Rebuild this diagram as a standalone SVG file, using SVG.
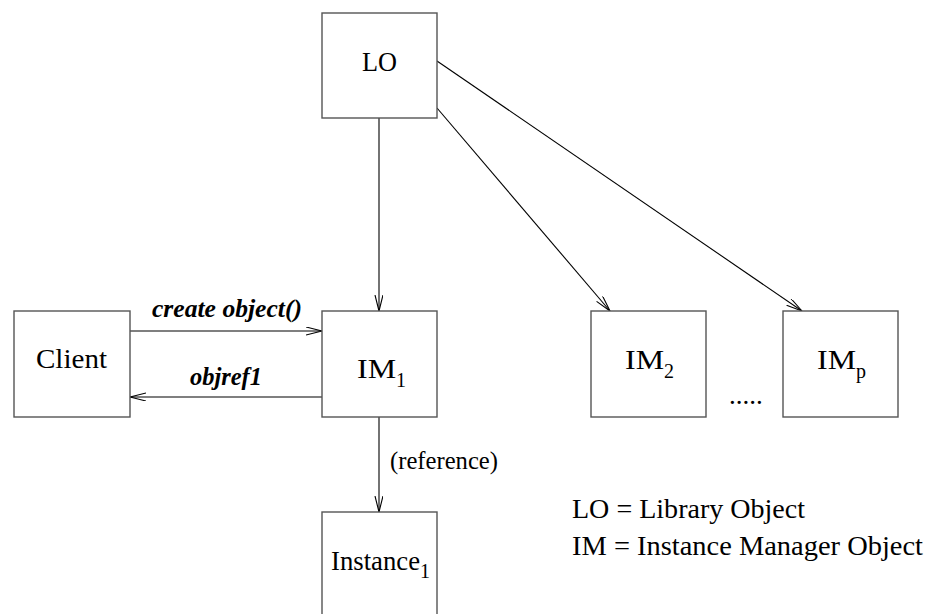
<svg xmlns="http://www.w3.org/2000/svg" width="930" height="614" viewBox="0 0 930 614">
<defs>
<style>
.box{fill:#fff;stroke:#555;stroke-width:1.4}
.t{font-family:"Liberation Serif","Times New Roman",serif;font-size:27px;fill:#000}
.s{font-size:20px}
.lbl{font-family:"Liberation Serif","Times New Roman",serif;font-size:25px;fill:#000}
.bi{font-style:italic;font-weight:bold}
.lg{font-size:28px}
.c{fill:none;stroke:#000;stroke-width:1.1}
</style>
<marker id="ah" markerWidth="18" markerHeight="10" refX="16" refY="4" orient="auto" markerUnits="userSpaceOnUse">
<path d="M0,0 L16,4 L0,8" fill="none" stroke="#000" stroke-width="1.1"/>
</marker>
</defs>
<g id="connectors">
<line class="c" x1="379" y1="118" x2="379" y2="311" marker-end="url(#ah)"/>
<line class="c" x1="437" y1="108" x2="610" y2="311" marker-end="url(#ah)"/>
<line class="c" x1="437" y1="61" x2="802" y2="311" marker-end="url(#ah)"/>
<line class="c" x1="130" y1="331" x2="322" y2="331" marker-end="url(#ah)"/>
<line class="c" x1="322" y1="397" x2="130" y2="397" marker-end="url(#ah)"/>
<line class="c" x1="379" y1="417" x2="379" y2="512" marker-end="url(#ah)"/>
<text class="lbl bi" x="152" y="317" textLength="150" lengthAdjust="spacingAndGlyphs">create object()</text>
<text class="lbl bi" x="190" y="385" textLength="72" lengthAdjust="spacingAndGlyphs">objref1</text>
<text class="lbl" x="390" y="469" textLength="108" lengthAdjust="spacingAndGlyphs">(reference)</text>
</g>
<g id="LO">
<rect class="box" x="322" y="13" width="115" height="105"/>
<text class="t" x="362" y="71" textLength="35" lengthAdjust="spacingAndGlyphs">LO</text>
</g>
<g id="Client">
<rect class="box" x="14" y="311" width="116" height="106"/>
<text class="t" x="36" y="368" textLength="71" lengthAdjust="spacingAndGlyphs">Client</text>
</g>
<g id="IM1">
<rect class="box" x="322" y="311" width="115" height="106"/>
<text class="t" x="357" y="378"><tspan textLength="39" lengthAdjust="spacingAndGlyphs">IM</tspan><tspan class="s" dy="9">1</tspan></text>
</g>
<g id="IM2">
<rect class="box" x="591" y="311" width="115" height="106"/>
<text class="t" x="625" y="369"><tspan textLength="39" lengthAdjust="spacingAndGlyphs">IM</tspan><tspan class="s" dy="9">2</tspan></text>
</g>
<g id="IMp">
<rect class="box" x="783" y="311" width="115" height="106"/>
<text class="t" x="817" y="369"><tspan textLength="39" lengthAdjust="spacingAndGlyphs">IM</tspan><tspan class="s" dy="9">p</tspan></text>
</g>
<g id="Instance1">
<rect class="box" x="322" y="512" width="115" height="110"/>
<text class="t" x="331" y="570"><tspan textLength="89" lengthAdjust="spacingAndGlyphs">Instance</tspan><tspan class="s" dy="8">1</tspan></text>
</g>
<g id="dots">
<text class="t" x="729" y="404">.....</text>
</g>
<g id="legend">
<text class="t lg" x="572" y="518" textLength="233" lengthAdjust="spacingAndGlyphs">LO = Library Object</text>
<text class="t lg" x="572" y="555" textLength="351" lengthAdjust="spacingAndGlyphs">IM = Instance Manager Object</text>
</g>
</svg>
